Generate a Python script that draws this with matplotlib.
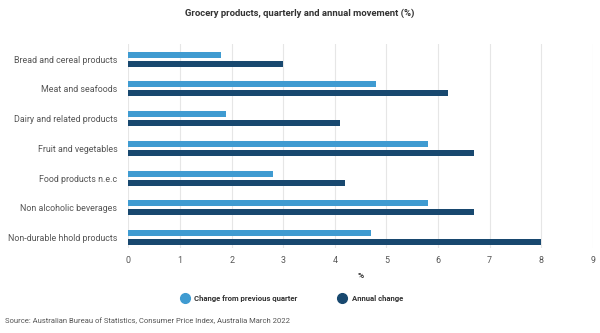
import numpy as np
import matplotlib.pyplot as plt
from matplotlib.lines import Line2D

plt.rcParams['font.family'] = ['Roboto', 'DejaVu Sans']

# Dados
categorias = ['Bread and cereal products', 'Meat and seafoods', 'Dairy and related products',
              'Fruit and vegetables', 'Food products n.e.c', 'Non alcoholic beverages',
              'Non-durable hhold products']
trimestral = [1.8, 4.8, 1.9, 5.8, 2.8, 5.8, 4.7]
anual = [3.0, 6.2, 4.1, 6.7, 4.2, 6.7, 8.0]

cor_tri = '#3f9bd1'
cor_anual = '#18486f'
cinza = '#555555'

fig = plt.figure(figsize=(6, 3.33), dpi=100)
ax = fig.add_axes([0.214, 0.255, 0.774, 0.613])

y = np.arange(len(categorias))
h = 0.2
ax.barh(y - 0.15, trimestral, height=h, color=cor_tri, zorder=3)
ax.barh(y + 0.15, anual, height=h, color=cor_anual, zorder=3)

ax.set_ylim(6.35, -0.51)
ax.set_xlim(0, 9)
ax.set_xticks(range(10))
ax.set_yticks(y)
ax.set_yticklabels(categorias)
ax.tick_params(length=0, labelsize=6.4, colors=cinza, pad=6)
ax.tick_params(axis='y', pad=8)
ax.grid(axis='x', color='#e6e6e6', linewidth=0.8, zorder=0)
for s in ax.spines.values():
    s.set_visible(False)
ax.set_xlabel('%', fontsize=6, color='#333333', fontweight='bold', labelpad=5)

fig.text(0.5, 0.96, 'Grocery products, quarterly and annual movement (%)', ha='center', va='center',
         fontsize=6.8, fontweight='bold', color='#333333')

handles = [Line2D([], [], marker='o', linestyle='', markersize=7, color=cor_tri),
           Line2D([], [], marker='o', linestyle='', markersize=7, color=cor_anual)]
fig.legend(handles, ['Change from previous quarter', 'Annual change'], loc='center',
           bbox_to_anchor=(0.483, 0.105), ncol=2, frameon=False,
           prop={'weight': 'bold', 'size': 5.6}, handletextpad=0.2, columnspacing=4.8,
           labelcolor='#333333')

fig.text(0.009, 0.037, 'Source: Australian Bureau of Statistics, Consumer Price Index, Australia March 2022',
         ha='left', va='center', fontsize=5.5, color=cinza)

plt.savefig('out.png', dpi=100)
